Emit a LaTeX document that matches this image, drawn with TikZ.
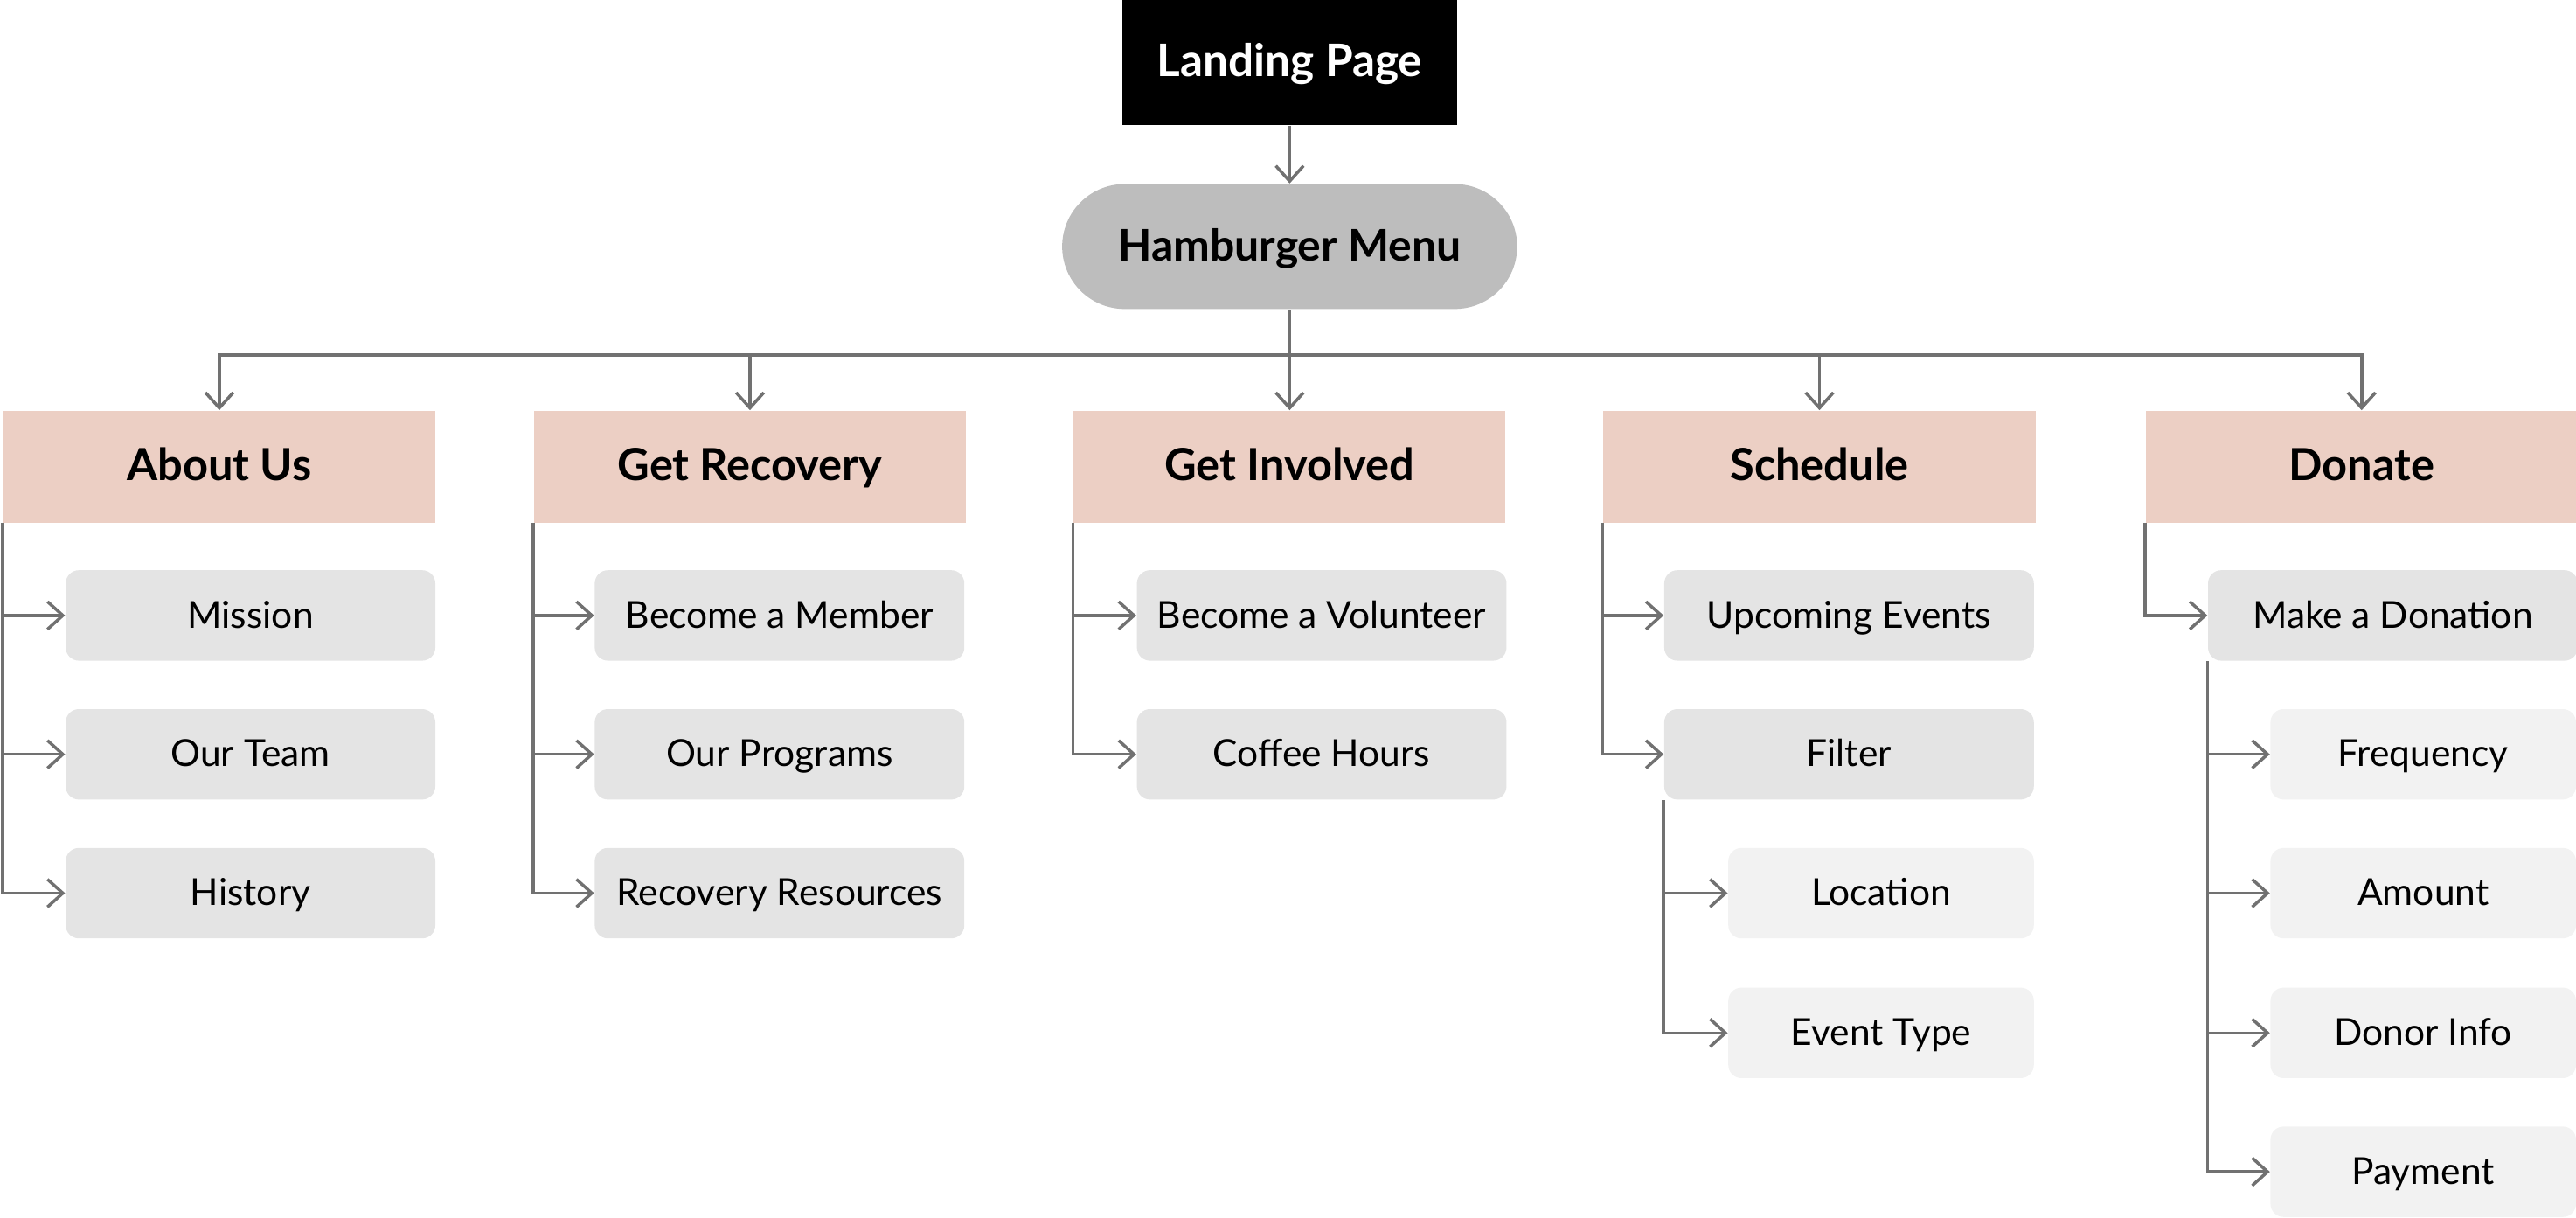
\documentclass[tikz,border=0pt]{standalone}
\usepackage{fontspec}
\setmainfont{Lato}
\usetikzlibrary{arrows.meta}

\definecolor{menugrey}{HTML}{BDBDBD}
\definecolor{catpink}{HTML}{ECCFC4}
\definecolor{subgrey}{HTML}{E4E4E4}
\definecolor{leafgrey}{HTML}{F2F2F2}
\definecolor{linegrey}{HTML}{717171}

\tikzset{
    page/.style={fill=black, text=white, inner sep=0pt, minimum width=3.834cm, minimum height=1.428cm, text height=0.94em, text depth=0pt, font=\fontsize{14.6}{17}\selectfont\bfseries},
    menu/.style={fill=menugrey, rounded corners=0.714cm, inner sep=0pt, minimum width=5.206cm, minimum height=1.428cm, text height=0.94em, text depth=0pt, font=\fontsize{14.2}{17}\selectfont\bfseries},
    cat/.style={fill=catpink, inner sep=0pt, minimum width=4.943cm, minimum height=1.278cm, text height=0.87em, text depth=0pt, font=\fontsize{14.4}{17}\selectfont\bfseries},
    sub/.style={fill=subgrey, rounded corners=0.15cm, inner sep=0pt, minimum width=4.229cm, minimum height=1.034cm, text height=0.81em, text depth=0pt, font=\fontsize{12.1}{14}\selectfont},
    leaf/.style={fill=leafgrey, rounded corners=0.15cm, inner sep=0pt, minimum width=3.496cm, minimum height=1.034cm, text height=0.81em, text depth=0pt, font=\fontsize{12.1}{14}\selectfont},
    link/.style={draw=linegrey, line width=1pt, -{Straight Barb[length=5pt, width=9pt, line width=1pt]}},
    wire/.style={draw=linegrey, line width=1pt}
}

\begin{document}
\begin{tikzpicture}[x=0.018795cm, y=-0.018795cm]
    \useasboundingbox (0,0) rectangle (1568,741);

    %Nodes
    \node[page] at (785,38) (landing) {Landing Page};
    \node[menu] at (785,150) (menu) {Hamburger Menu};
    \coordinate (bus) at (785,216);

    \node[cat] at (133.5,284) (about) {About Us};
    \node[cat] at (456.5,284) (recovery) {Get Recovery};
    \node[cat] at (785,284) (involved) {Get Involved};
    \node[cat] at (1107.5,284) (schedule) {Schedule};
    \node[cat] at (1437.5,284) (donate) {Donate};

    \node[sub] at (152.5,374.5) (mission) {Mission};
    \node[sub] at (152.5,459) (team) {Our Team};
    \node[sub] at (152.5,543.5) (history) {History};

    \node[sub] at (474.5,374.5) (member) {Become a Member};
    \node[sub] at (474.5,459) (programs) {Our Programs};
    \node[sub] at (474.5,543.5) (resources) {Recovery Resources};

    \node[sub] at (804.5,374.5) (volunteer) {Become a Volunteer};
    \node[sub] at (804.5,459) (coffee) {Coffee Hours};

    \node[sub] at (1125.5,374.5) (events) {Upcoming Events};
    \node[sub] at (1125.5,459) (filter) {Filter};
    \node[leaf] at (1145,543.5) (location) {Location};
    \node[leaf] at (1145,628.5) (type) {Event Type};

    \node[sub] at (1456.5,374.5) (donation) {Make a Donation};
    \node[leaf] at (1475,459) (frequency) {Frequency};
    \node[leaf] at (1475,543.5) (amount) {Amount};
    \node[leaf] at (1475,628.5) (donor) {Donor Info};
    \node[leaf] at (1475,713) (payment) {Payment};

    %Lines
    \draw[link] (landing) -- (menu);
    \draw[wire] (menu.south) -- (bus);
    \draw[link] (bus) -| (about.north);
    \draw[link] (bus) -| (recovery.north);
    \draw[link] (bus) -- (involved.north);
    \draw[link] (bus) -| (schedule.north);
    \draw[link] (bus) -| (donate.north);

    \draw[link] (about.south west) |- (mission.west);
    \draw[link] (about.south west) |- (team.west);
    \draw[link] (about.south west) |- (history.west);

    \draw[link] (recovery.south west) |- (member.west);
    \draw[link] (recovery.south west) |- (programs.west);
    \draw[link] (recovery.south west) |- (resources.west);

    \draw[link] (involved.south west) |- (volunteer.west);
    \draw[link] (involved.south west) |- (coffee.west);

    \draw[link] (schedule.south west) |- (events.west);
    \draw[link] (schedule.south west) |- (filter.west);
    \draw[link] (filter.south west) |- (location.west);
    \draw[link] (filter.south west) |- (type.west);

    \draw[link] (donate.south west) |- (donation.west);
    \draw[link] (donation.south west) |- (frequency.west);
    \draw[link] (donation.south west) |- (amount.west);
    \draw[link] (donation.south west) |- (donor.west);
    \draw[link] (donation.south west) |- (payment.west);
\end{tikzpicture}
\end{document}
